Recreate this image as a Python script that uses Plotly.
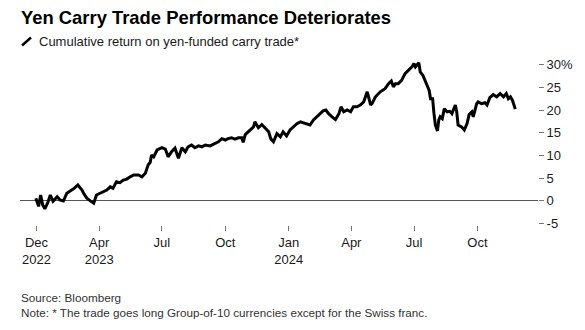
import plotly.graph_objects as go

# ---- data ----
dates = [
    "2022-12-30", "2023-01-03", "2023-01-06", "2023-01-09", "2023-01-12", "2023-01-16",
    "2023-01-20", "2023-01-24", "2023-01-30", "2023-02-03", "2023-02-08", "2023-02-13",
    "2023-02-20", "2023-02-24", "2023-03-01", "2023-03-07", "2023-03-10", "2023-03-14",
    "2023-03-20", "2023-03-24", "2023-03-28", "2023-04-02", "2023-04-07", "2023-04-12",
    "2023-04-17", "2023-04-21", "2023-04-26", "2023-05-01", "2023-05-06", "2023-05-11",
    "2023-05-16", "2023-05-21", "2023-05-28", "2023-06-02", "2023-06-07", "2023-06-11",
    "2023-06-14", "2023-06-16", "2023-06-19", "2023-06-24", "2023-07-01", "2023-07-06",
    "2023-07-10", "2023-07-15", "2023-07-20", "2023-07-25", "2023-07-30", "2023-08-04",
    "2023-08-08", "2023-08-13", "2023-08-18", "2023-08-23", "2023-08-28", "2023-09-02",
    "2023-09-09", "2023-09-16", "2023-09-21", "2023-09-26", "2023-10-01", "2023-10-05",
    "2023-10-10", "2023-10-15", "2023-10-20", "2023-10-25", "2023-10-27", "2023-10-30",
    "2023-11-06", "2023-11-11", "2023-11-13", "2023-11-18", "2023-11-23", "2023-11-28",
    "2023-12-03", "2023-12-06", "2023-12-10", "2023-12-15", "2023-12-20", "2023-12-24",
    "2023-12-29", "2024-01-03", "2024-01-08", "2024-01-13", "2024-01-18", "2024-01-23",
    "2024-01-28", "2024-02-01", "2024-02-06", "2024-02-11", "2024-02-16", "2024-02-20",
    "2024-02-24", "2024-02-28", "2024-03-04", "2024-03-09", "2024-03-14", "2024-03-17",
    "2024-03-21", "2024-03-26", "2024-03-31", "2024-04-04", "2024-04-09", "2024-04-14",
    "2024-04-19", "2024-04-24", "2024-04-26", "2024-04-29", "2024-05-01", "2024-05-06",
    "2024-05-13", "2024-05-20", "2024-05-25", "2024-05-29", "2024-06-01", "2024-06-04",
    "2024-06-08", "2024-06-13", "2024-06-18", "2024-06-23", "2024-06-28", "2024-07-01",
    "2024-07-03", "2024-07-08", "2024-07-10", "2024-07-14", "2024-07-18", "2024-07-20",
    "2024-07-23", "2024-07-25", "2024-07-28", "2024-07-30", "2024-08-01", "2024-08-04",
    "2024-08-06", "2024-08-08", "2024-08-11", "2024-08-14", "2024-08-18", "2024-08-22",
    "2024-08-25", "2024-08-30", "2024-09-01", "2024-09-03", "2024-09-08", "2024-09-12",
    "2024-09-16", "2024-09-19", "2024-09-23", "2024-09-25", "2024-09-30", "2024-10-02",
    "2024-10-07", "2024-10-12", "2024-10-15", "2024-10-19", "2024-10-24", "2024-10-29",
    "2024-11-03", "2024-11-08", "2024-11-12", "2024-11-15", "2024-11-18", "2024-11-21",
    "2024-11-25",
]
cum_return = [
    0.6, -1.2, 1.3, -0.9, -1.75, -0.5,
    1.3, -0.1, 0.9, 0.2, 0.0, 1.7,
    2.4, 2.8, 3.5, 2.4, 1.5, 0.6,
    -0.1, -0.5, 1.3, 1.7, 2.0, 2.4,
    3.1, 2.8, 4.2, 4.0, 4.6, 4.8,
    5.3, 5.7, 5.7, 5.3, 6.1, 7.9,
    8.5, 10.1, 9.7, 11.2, 11.7, 11.4,
    9.7, 10.8, 11.6, 9.4, 11.7, 10.8,
    11.9, 12.3, 11.7, 12.1, 11.9, 12.3,
    12.1, 12.6, 13.0, 13.7, 13.4, 13.7,
    13.9, 13.6, 13.9, 13.9, 12.9, 14.6,
    15.6, 16.3, 17.4, 16.1, 16.8, 15.9,
    15.2, 13.7, 13.0, 14.8, 14.1, 15.2,
    14.3, 15.6, 16.3, 17.0, 17.4, 17.2,
    17.0, 16.7, 17.8, 18.5, 19.2, 19.8,
    20.0, 19.2, 18.5, 17.9, 19.2, 20.7,
    19.6, 20.0, 19.6, 20.7, 20.7, 21.1,
    21.8, 24.0, 22.9, 21.1, 21.4, 22.9,
    24.0, 24.7, 25.8, 26.4, 25.1, 25.8,
    25.8, 26.5, 28.0, 28.7, 29.5, 30.2,
    29.5, 30.4, 28.4, 27.6, 26.2, 25.4,
    24.3, 22.5, 22.5, 19.2, 16.7, 15.4,
    17.8, 18.5, 18.1, 20.3, 19.6, 19.7,
    19.2, 21.1, 19.6, 16.7, 16.3, 15.6,
    17.0, 19.0, 19.6, 18.5, 21.4, 21.8,
    21.4, 21.6, 21.1, 22.7, 23.4, 22.9,
    23.6, 22.9, 23.6, 22.5, 22.9, 22.1,
    20.2,
]

x_tick_vals = ["2022-12-31", "2023-04-01", "2023-07-01", "2023-10-01",
               "2024-01-01", "2024-04-01", "2024-07-01", "2024-10-01"]
x_tick_text = ["Dec<br>2022", "Apr<br>2023", "Jul", "Oct", "Jan<br>2024", "Apr", "Jul", "Oct"]
y_tick_vals = [30, 25, 20, 15, 10, 5, 0, -5]
y_tick_text = ["30%", "25", "20", "15", "10", "5", "0", "-5"]

title = "Yen Carry Trade Performance Deteriorates"
series_label = "Cumulative return on yen-funded carry trade*"
source = "Source: Bloomberg"
note = "Note: * The trade goes long Group-of-10 currencies except for the Swiss franc."

FONT = "Liberation Sans, Arial, sans-serif"

fig = go.Figure()
fig.add_trace(go.Scatter(
    x=dates, y=cum_return, mode="lines",
    line=dict(color="#000000", width=3),
    hoverinfo="skip", showlegend=False,
))

# pixel -> paper helpers (plot area: x 20..538, y 60..225)
L, R, T, B = 20, 47, 60, 105
W, H = 585, 330
PW, PH = W - L - R, H - T - B

def px(x):
    return (x - L) / PW

def py(y):
    return (H - B - y) / PH

fig.update_layout(
    width=W, height=H, autosize=False,
    margin=dict(l=L, r=R, t=T, b=B, pad=0),
    paper_bgcolor="white", plot_bgcolor="white",
    font=dict(family=FONT, size=13, color="#1a1a1a"),
    xaxis=dict(
        type="date", range=["2022-12-07", "2024-12-28"],
        tickmode="array", tickvals=x_tick_vals, ticktext=x_tick_text,
        ticks="outside", ticklen=5, tickcolor="#777", tickwidth=1,
        showgrid=False, showline=False, zeroline=False,
        tickfont=dict(size=13, color="#1a1a1a"),
    ),
    yaxis=dict(
        side="right", range=[-5.3, 31],
        tickmode="array", tickvals=y_tick_vals, ticktext=y_tick_text,
        ticks="outside", ticklen=5, tickcolor="#777", tickwidth=1,
        showgrid=False, showline=False,
        zeroline=True, zerolinecolor="#555", zerolinewidth=1,
        tickfont=dict(size=13, color="#1a1a1a"),
    ),
    shapes=[dict(
        type="line", xref="paper", yref="paper",
        x0=px(22), y0=py(45.5), x1=px(31), y1=py(37.5),
        line=dict(color="#000", width=2.5),
    )],
    annotations=[
        dict(text="<b>" + title + "</b>", xref="paper", yref="paper",
             x=px(19), y=py(17), xanchor="left", yanchor="middle",
             showarrow=False, font=dict(size=18.4, color="#000", family=FONT)),
        dict(text=series_label, xref="paper", yref="paper",
             x=px(37), y=py(41.5), xanchor="left", yanchor="middle",
             showarrow=False, font=dict(size=13, color="#1a1a1a", family=FONT)),
        dict(text=source, xref="paper", yref="paper",
             x=px(19), y=py(297), xanchor="left", yanchor="middle",
             showarrow=False, font=dict(size=11.7, color="#333", family=FONT)),
        dict(text=note, xref="paper", yref="paper",
             x=px(19), y=py(312), xanchor="left", yanchor="middle",
             showarrow=False, font=dict(size=11.7, color="#333", family=FONT)),
    ],
)

fig.write_html("out.html")
